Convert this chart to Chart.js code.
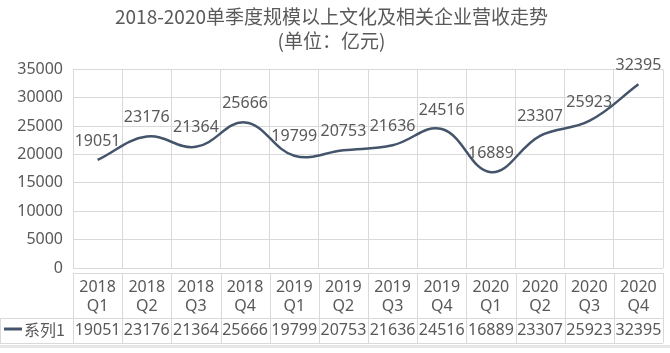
<!DOCTYPE html>
<html>
<head>
<meta charset="utf-8">
<script src="https://cdn.jsdelivr.net/npm/chart.js@4/dist/chart.umd.min.js"></script>
<style>
  html, body { margin: 0; padding: 0; background: #fff; }
  #wrap { width: 670px; height: 353px; }
</style>
</head>
<body>
<div id="wrap"><canvas id="chart" width="670" height="353"></canvas></div>
<script>
// 数据
const years = ['2018', '2018', '2018', '2018', '2019', '2019', '2019', '2019', '2020', '2020', '2020', '2020'];
const quarters = ['Q1', 'Q2', 'Q3', 'Q4', 'Q1', 'Q2', 'Q3', 'Q4', 'Q1', 'Q2', 'Q3', 'Q4'];
const revenue = [19051, 23176, 21364, 25666, 19799, 20753, 21636, 24516, 16889, 23307, 25923, 32395];
const seriesName = '系列1';
const titleLines = ['2018-2020单季度规模以上文化及相关企业营收走势', '(单位：亿元)'];

const textColor = '#595959';
const lineColor = '#44546A';
const gridColor = '#d9d9d9';
const numFont = '16px "Noto Sans", sans-serif';

// 数据标签
const labelPlugin = {
    id: 'labels',
    afterDatasetsDraw(chart) {
        const ctx = chart.ctx;
        const meta = chart.getDatasetMeta(0);
        ctx.save();
        ctx.font = numFont;
        ctx.fillStyle = textColor;
        ctx.textAlign = 'center';
        ctx.textBaseline = 'middle';
        meta.data.forEach((pt, i) => {
            ctx.fillText(revenue[i], pt.x, pt.y - 19);
        });
        ctx.restore();
    }
};

// 底部数据表
const tablePlugin = {
    id: 'dataTable',
    afterDraw(chart) {
        const ctx = chart.ctx;
        const xs = chart.scales.x;
        const area = chart.chartArea;
        const w = (area.right - area.left) / years.length;
        const top = 273, mid = 318, bottom = 343;
        ctx.save();
        ctx.strokeStyle = gridColor;
        ctx.lineWidth = 1;
        ctx.beginPath();
        ctx.moveTo(area.left, top + 0.5);
        ctx.lineTo(area.right, top + 0.5);
        ctx.moveTo(0, mid + 0.5);
        ctx.lineTo(area.right, mid + 0.5);
        ctx.moveTo(0, bottom + 0.5);
        ctx.lineTo(area.right, bottom + 0.5);
        for (let i = 0; i <= years.length; i++) {
            const x = Math.round(area.left + i * w) + 0.5;
            ctx.moveTo(x, top);
            ctx.lineTo(x, bottom);
        }
        ctx.moveTo(0.5, mid);
        ctx.lineTo(0.5, bottom);
        ctx.stroke();

        ctx.font = numFont;
        ctx.fillStyle = textColor;
        ctx.textAlign = 'center';
        ctx.textBaseline = 'middle';
        years.forEach((y, i) => {
            const x = xs.getPixelForValue(i);
            ctx.fillText(y, x, 287);
            ctx.fillText(quarters[i], x, 306);
            ctx.fillText(revenue[i], x, 330);
        });

        // 图例
        ctx.strokeStyle = lineColor;
        ctx.lineWidth = 3;
        ctx.beginPath();
        ctx.moveTo(4, 329);
        ctx.lineTo(22, 329);
        ctx.stroke();
        ctx.font = '16px "Noto Sans CJK SC", sans-serif';
        ctx.textAlign = 'left';
        ctx.fillText(seriesName, 24, 330);

        // 底部阴影
        ctx.fillStyle = '#e6e6e6';
        ctx.fillRect(0, 345, 670, 3);
        ctx.restore();
    }
};

new Chart(document.getElementById('chart'), {
    type: 'line',
    data: {
        labels: quarters,
        datasets: [{
            label: seriesName,
            data: revenue,
            borderColor: lineColor,
            borderWidth: 2.5,
            pointRadius: 0,
            tension: 0.4,
            fill: false
        }]
    },
    options: {
        responsive: false,
        animation: false,
        layout: { padding: { left: 0, right: 7, top: 0, bottom: 85 } },
        plugins: {
            legend: { display: false },
            tooltip: { enabled: false },
            title: {
                display: true,
                text: titleLines,
                color: textColor,
                font: { family: '"Noto Sans CJK SC", sans-serif', size: 19, weight: 'normal', lineHeight: 1.25 },
                padding: { top: 5, bottom: 17 }
            }
        },
        scales: {
            x: {
                offset: true,
                grid: { color: gridColor, offset: true, drawTicks: false },
                border: { display: false },
                ticks: { display: false }
            },
            y: {
                min: 0,
                max: 35000,
                afterFit(scale) { scale.width = 73; },
                grid: { color: gridColor, drawTicks: false },
                border: { display: false },
                ticks: {
                    stepSize: 5000,
                    color: textColor,
                    font: { family: '"Noto Sans", sans-serif', size: 16 },
                    padding: 10,
                    callback: v => String(v)
                }
            }
        }
    },
    plugins: [labelPlugin, tablePlugin]
});
</script>
</body>
</html>
